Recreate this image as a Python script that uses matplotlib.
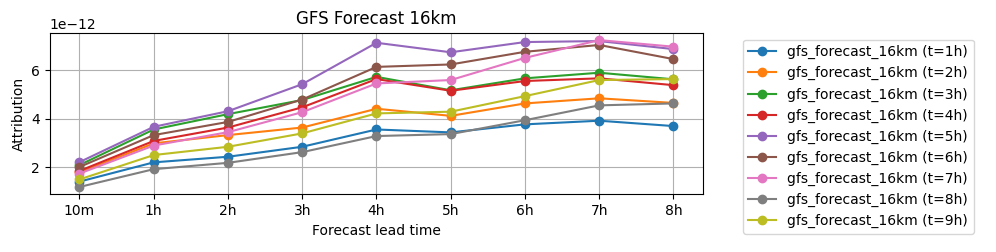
import matplotlib
matplotlib.use("Agg")
import matplotlib.pyplot as plt

lead_times = ["10m", "1h", "2h", "3h", "4h", "5h", "6h", "7h", "8h"]
series_labels = [f"gfs_forecast_16km (t={i}h)" for i in range(1, 10)]

# attribution values (x 1e-12), one list per forecast step
t1 = [1.42, 2.21, 2.44, 2.85, 3.56, 3.44, 3.77, 3.92, 3.70]
t2 = [1.80, 2.99, 3.33, 3.64, 4.41, 4.12, 4.63, 4.84, 4.65]
t3 = [2.10, 3.56, 4.19, 4.77, 5.72, 5.17, 5.66, 5.89, 5.62]
t4 = [1.86, 3.09, 3.64, 4.47, 5.63, 5.15, 5.55, 5.66, 5.38]
t5 = [2.22, 3.67, 4.31, 5.42, 7.12, 6.73, 7.15, 7.19, 6.86]
t6 = [2.02, 3.33, 3.87, 4.79, 6.13, 6.23, 6.75, 7.03, 6.45]
t7 = [1.75, 2.90, 3.45, 4.27, 5.45, 5.59, 6.50, 7.23, 6.96]
t8 = [1.20, 1.93, 2.19, 2.63, 3.29, 3.37, 3.94, 4.55, 4.63]
t9 = [1.51, 2.51, 2.85, 3.40, 4.22, 4.29, 4.93, 5.59, 5.63]
series = [t1, t2, t3, t4, t5, t6, t7, t8, t9]

fig = plt.figure(figsize=(9.96, 2.52), dpi=100)
ax = fig.add_axes([0.050, 0.229, 0.656, 0.641])

for vals, label in zip(series, series_labels):
    ax.plot(lead_times, [v * 1e-12 for v in vals], marker="o", label=label)

ax.set_title("GFS Forecast 16km")
ax.set_xlabel("Forecast lead time")
ax.set_ylabel("Attribution")
ax.grid(True)
ax.legend(loc="upper left", bbox_to_anchor=(1.05, 1))

fig.savefig("out.png", dpi=100)
